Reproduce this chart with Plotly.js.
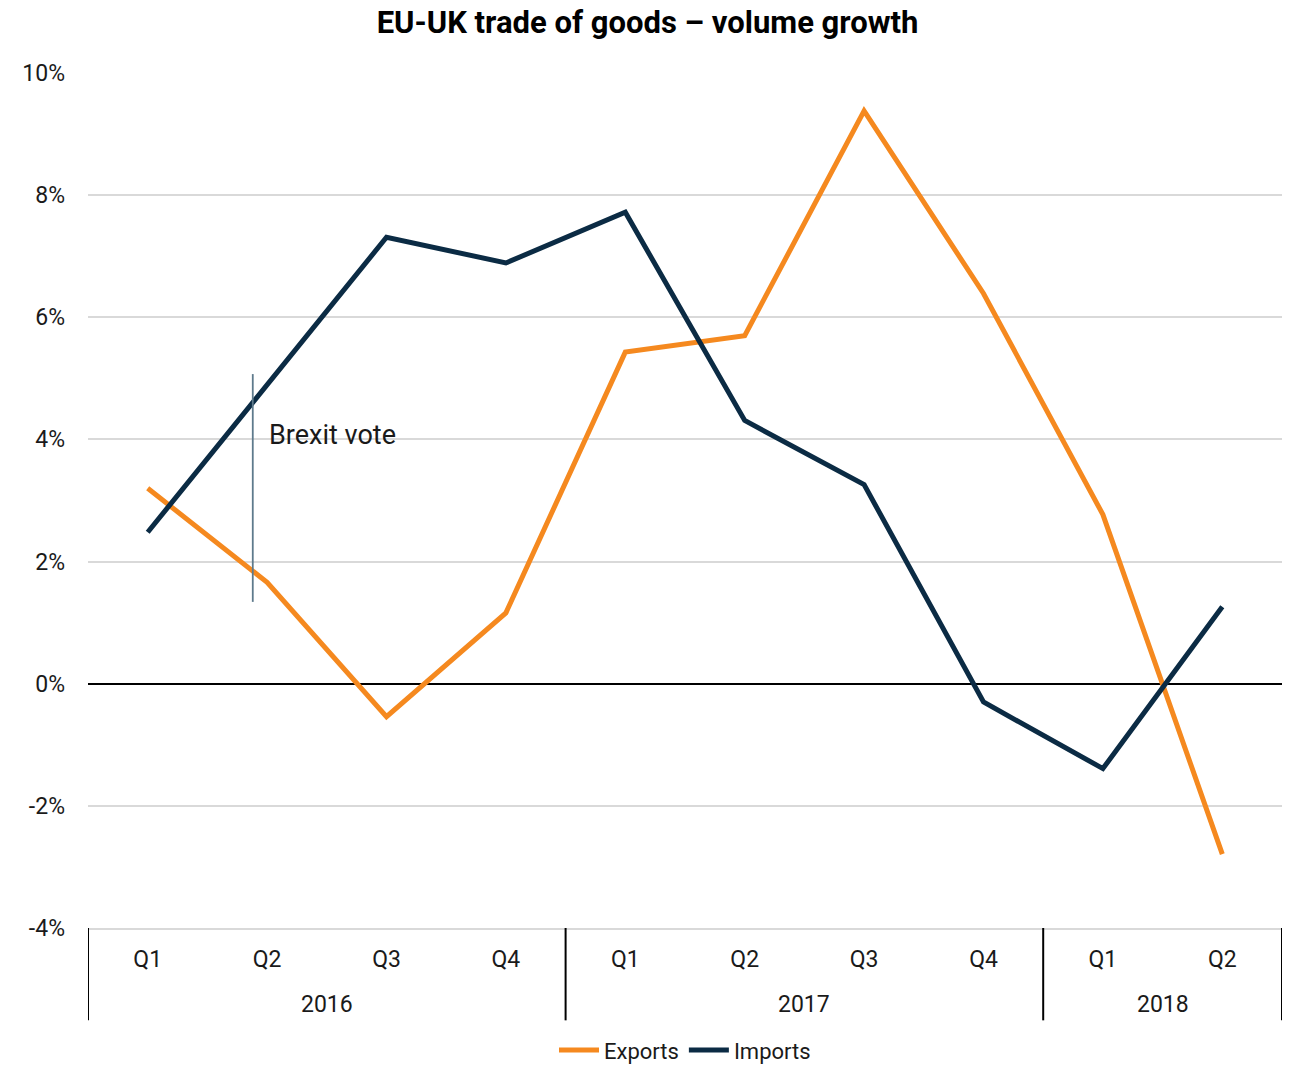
<!DOCTYPE html>
<html>
<head>
<meta charset="utf-8">
<script src="https://cdn.plot.ly/plotly-3.0.1.min.js"></script>
<style>html,body{margin:0;padding:0;background:#fff;}#chart{width:1295px;height:1068px;}</style>
</head>
<body>
<div id="chart"></div>
<script>
const years = ["2016","2016","2016","2016","2017","2017","2017","2017","2018","2018"];
const quarters = ["Q1","Q2","Q3","Q4","Q1","Q2","Q3","Q4","Q1","Q2"];
const exportsGrowth = [3.20, 1.66, -0.54, 1.16, 5.43, 5.70, 9.38, 6.39, 2.77, -2.79];
const importsGrowth = [2.48, 4.90, 7.31, 6.89, 7.72, 4.31, 3.26, -0.30, -1.39, 1.26];
const yTickVals = [-4, -2, 0, 2, 4, 6, 8, 10];
const yTickText = ["-4%", "-2%", "0%", "2%", "4%", "6%", "8%", "10%"];
const brexitLabel = "Brexit vote";
const brexitX = 0.88;
const brexitY0 = 1.34, brexitY1 = 5.07;

const FONT = "Roboto, 'Open Sans', sans-serif";
const idx = quarters.map((_, i) => i);

// year groups derived from data
const groups = [];
years.forEach((y, i) => {
  const g = groups[groups.length - 1];
  if (g && g.year === y) g.end = i; else groups.push({year: y, start: i, end: i});
});

const traces = [
  {x: idx, y: exportsGrowth, name: "Exports", type: "scatter", mode: "lines",
   line: {color: "#F5891F", width: 5}},
  {x: idx, y: importsGrowth, name: "Imports", type: "scatter", mode: "lines",
   line: {color: "#0B2B44", width: 5}}
];

const shapes = [
  {type: "line", xref: "x", yref: "y", x0: brexitX, x1: brexitX, y0: brexitY0, y1: brexitY1,
   line: {color: "#5E7A8C", width: 1.8}}
];
const bounds = [groups[0].start - 0.5].concat(groups.map(g => g.end + 0.5));
bounds.forEach(b => shapes.push({type: "line", xref: "x", yref: "paper", x0: b, x1: b, y0: 0, y1: -0.108,
  line: {color: "#000", width: 2}}));

const annotations = [
  {text: brexitLabel, xref: "x", yref: "y", x: 1.0, y: 4.07, xanchor: "left", yanchor: "middle",
   showarrow: false, font: {size: 27, color: "#1a1a1a"}}
];
groups.forEach(g => annotations.push({text: g.year, xref: "x", yref: "paper", x: (g.start + g.end) / 2,
  y: -0.090, xanchor: "center", yanchor: "middle", showarrow: false, font: {size: 23, color: "#1a1a1a"}}));

const layout = {
  width: 1295, height: 1068,
  margin: {l: 88, r: 13, t: 73, b: 140, autoexpand: false},
  paper_bgcolor: "#fff", plot_bgcolor: "#fff",
  font: {family: FONT, size: 23, color: "#1a1a1a"},
  title: {text: "<b>EU-UK trade of goods – volume growth</b>", x: 0.5, xanchor: "center",
          yref: "container", y: 0.979, yanchor: "middle",
          font: {family: FONT, size: 31, color: "#000"}},
  xaxis: {range: [-0.5, 9.5], tickvals: idx, ticktext: quarters, showgrid: false, zeroline: false,
          showline: true, linecolor: "#d9d9d9", linewidth: 2, ticks: "", ticklabelstandoff: 9,
          tickfont: {size: 23, color: "#1a1a1a"}, automargin: false},
  yaxis: {range: [-4, 10], tickvals: yTickVals, ticktext: yTickText, showgrid: true,
          gridcolor: "#d9d9d9", gridwidth: 2, zeroline: true, zerolinecolor: "#000", zerolinewidth: 1.5,
          showline: false, ticks: "", ticklabelstandoff: 22, tickfont: {size: 23, color: "#1a1a1a"},
          automargin: false},
  showlegend: true,
  legend: {orientation: "h", x: 0.5, xanchor: "center", y: -0.143, yanchor: "middle",
           font: {size: 22, color: "#1a1a1a"}, itemwidth: 40, tracegroupgap: 0},
  shapes: shapes,
  annotations: annotations
};
Plotly.newPlot("chart", traces, layout, {displayModeBar: false, responsive: false});
</script>
</body>
</html>
